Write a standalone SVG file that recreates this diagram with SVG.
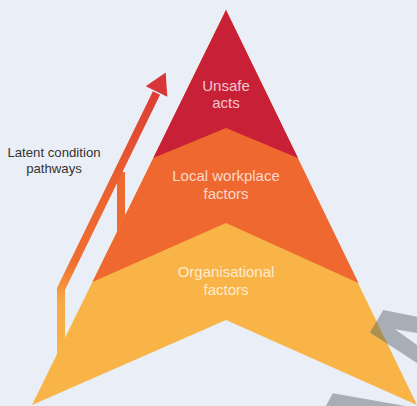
<svg xmlns="http://www.w3.org/2000/svg" width="417" height="406" viewBox="0 0 417 406">
  <style>
    .lbl { font-family: "Liberation Sans", Arial, sans-serif; font-size: 15px; fill: #ffffff; fill-opacity: 0.75; text-anchor: middle; }
    .side { font-family: "Liberation Sans", Arial, sans-serif; font-size: 13.2px; fill: #333333; text-anchor: middle; }
    .gray { fill: #A9ADB5; }
    .grayov { fill: #AE9150; }
  </style>
  <defs>
    <linearGradient id="shaftGrad" gradientUnits="userSpaceOnUse" x1="0" y1="360" x2="0" y2="72">
      <stop offset="0" stop-color="#F9B548"/>
      <stop offset="0.2" stop-color="#F6AA44"/>
      <stop offset="0.34" stop-color="#EF6E2F"/>
      <stop offset="0.6" stop-color="#EC622F"/>
      <stop offset="1" stop-color="#D83438"/>
    </linearGradient>
    <clipPath id="triClip">
      <polygon points="226,10 417,405 226,320 32,405"/>
    </clipPath>
  </defs>

  <rect width="417" height="406" fill="#EAEFF7"/>

  <g id="connectors">
    <g id="latent-pathway-arrow">
      <rect x="117" y="172" width="8" height="70" fill="#EE6A2F"/>
      <polyline points="61,370 61,289 156.5,93" fill="none" stroke="url(#shaftGrad)" stroke-width="8" stroke-linejoin="miter"/>
      <polygon points="165.7,72.6 145.7,86.2 167.3,96.8" fill="#D9363A"/>
    </g>
  </g>

  <g id="node-organisational">
    <polygon points="226,10 417,405 226,320 32,405" fill="#F9B448"/>
    <text class="lbl" x="226" y="277">Organisational</text>
    <text class="lbl" x="226" y="295">factors</text>
  </g>

  <g id="node-local">
    <polygon points="226,10 358.5,283 226,223 92.4,282" fill="#EE6830"/>
    <text class="lbl" x="226" y="181">Local workplace</text>
    <text class="lbl" x="226" y="199">factors</text>
  </g>

  <g id="node-unsafe">
    <polygon points="226,10 298,158 226,128 153.3,158" fill="#C82037"/>
    <text class="lbl" x="226" y="90.5">Unsafe</text>
    <text class="lbl" x="226" y="108">acts</text>
  </g>

  <g id="label-latent">
    <text class="side" x="54" y="157.3">Latent condition</text>
    <text class="side" x="54" y="172.5">pathways</text>
  </g>

  <g id="gray-shapes">
    <polygon class="gray" points="370,332.5 383.3,310 417,316.7 417,333 395,329.3 417,345 417,363"/>
    <polygon class="grayov" clip-path="url(#triClip)" points="370,332.5 383.3,310 417,316.7 417,333 395,329.3 417,345 417,363"/>
    <polygon class="gray" points="332.7,393.3 417,408 417,406 326,406"/>
  </g>
</svg>
